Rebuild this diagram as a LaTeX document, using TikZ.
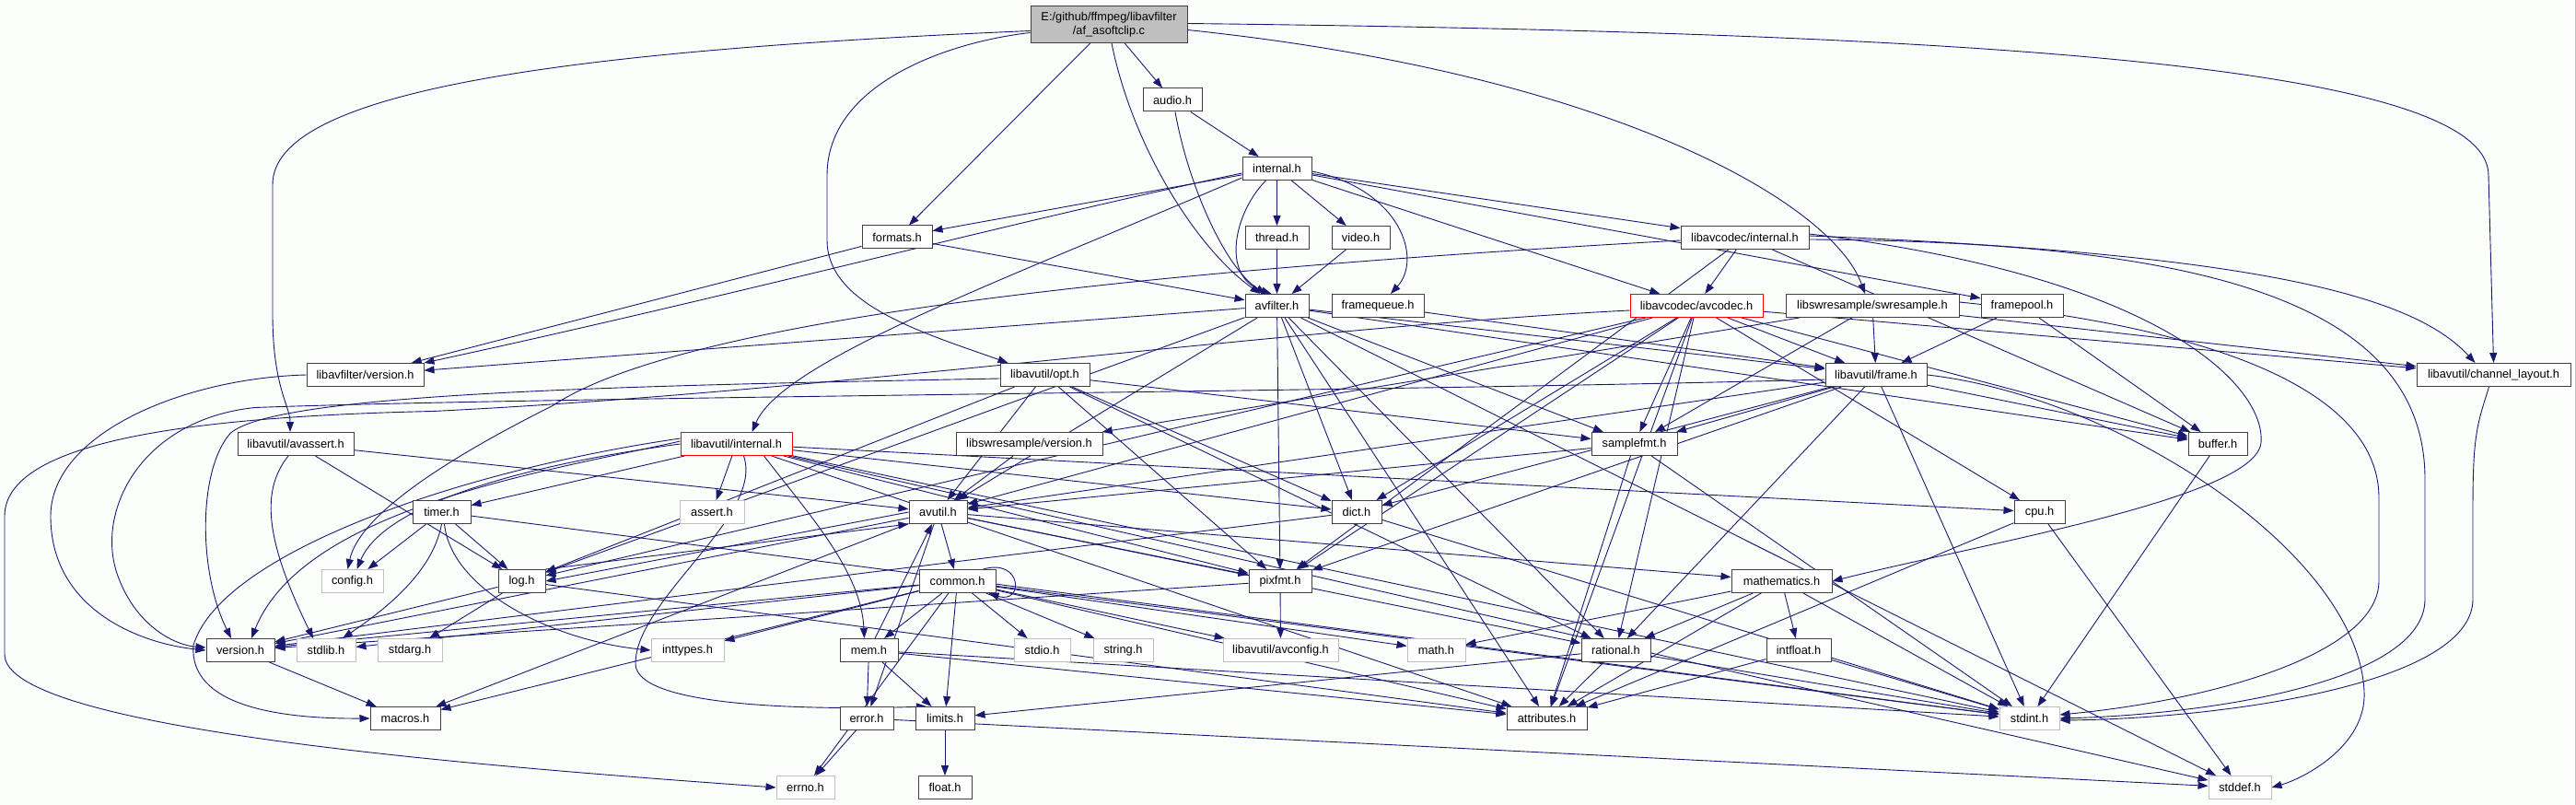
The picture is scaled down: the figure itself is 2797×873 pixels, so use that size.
\documentclass[tikz,border=0pt]{standalone}
\usepackage{fontspec}
\setmainfont{Liberation Sans}
\usetikzlibrary{arrows.meta}
\definecolor{edgec}{RGB}{25,25,112}
\definecolor{ndc}{RGB}{64,64,64}
\definecolor{sysc}{RGB}{191,191,191}
\definecolor{rootfill}{RGB}{191,191,191}
\definecolor{bgc}{RGB}{252,254,252}
\pgfdeclarelayer{back}
\pgfdeclarelayer{edges}
\pgfsetlayers{back,edges,main}
\newcommand{\fsz}{\fontsize{12.8}{14.5}\selectfont}
\tikzset{
  nd/.style={draw=ndc, fill=white, line width=1pt, minimum height=25pt, inner sep=0pt, font=\fsz},
  sys/.style={nd, draw=sysc},
  redbox/.style={nd, draw=red},
  edg/.style={draw=edgec, line width=0.9pt, -{Triangle[length=11pt,width=8pt]}, fill=none}
}
\begin{document}
\begin{tikzpicture}[x=1pt,y=-1pt]
\begin{pgfonlayer}{back}
\fill[bgc] (0,0) rectangle (2797,873);
\draw[sysc, line width=1pt] (2796,0) -- (2796,873);
\end{pgfonlayer}
\useasboundingbox (0,0) rectangle (2797,873);

\node[nd,fill=rootfill,minimum width=170pt,minimum height=40pt,align=center] (root) at (1204,26) {E:/github/ffmpeg/libavfilter\\/af\_asoftclip.c};
\node[nd,minimum width=64pt] (audio) at (1273,108) {audio.h};
\node[nd,minimum width=75pt] (lfint) at (1386.5,182.5) {internal.h};
\node[nd,minimum width=76pt] (formats) at (974,257) {formats.h};
\node[nd,minimum width=69pt] (thread) at (1386.5,257.5) {thread.h};
\node[nd,minimum width=63pt] (video) at (1477.5,257.5) {video.h};
\node[nd,minimum width=139pt] (lcint) at (1894.5,257.5) {libavcodec/internal.h};
\node[nd,minimum width=69pt] (avfilter) at (1386.5,331.5) {avfilter.h};
\node[nd,minimum width=100pt] (fqueue) at (1496,331.5) {framequeue.h};
\node[redbox,minimum width=144pt] (avcodec) at (1842,331.5) {libavcodec/avcodec.h};
\node[nd,minimum width=188pt] (swr) at (2033,331.5) {libswresample/swresample.h};
\node[nd,minimum width=89pt] (fpool) at (2195.5,331.5) {framepool.h};
\node[nd,minimum width=127pt] (lfver) at (396.5,406.5) {libavfilter/version.h};
\node[nd,minimum width=97pt] (opt) at (1134.5,406.5) {libavutil/opt.h};
\node[nd,minimum width=110pt] (frame) at (2037,406.5) {libavutil/frame.h};
\node[nd,minimum width=167pt] (chl) at (2707.5,406.5) {libavutil/channel\_layout.h};
\node[nd,minimum width=126pt] (avassert) at (321,481.5) {libavutil/avassert.h};
\node[redbox,minimum width=121pt] (luint) at (799.5,481.5) {libavutil/internal.h};
\node[nd,minimum width=159pt] (swrver) at (1117.5,481.5) {libswresample/version.h};
\node[nd,minimum width=93pt] (sfmt) at (1774.5,481.5) {samplefmt.h};
\node[nd,minimum width=64pt] (buffer) at (2408,481.5) {buffer.h};
\node[nd,minimum width=63pt] (timer) at (479.5,555.5) {timer.h};
\node[sys,minimum width=70pt] (assert) at (773,555.5) {assert.h};
\node[nd,minimum width=63pt] (avutil) at (1018.5,555.5) {avutil.h};
\node[nd,minimum width=54pt] (dict) at (1473,555.5) {dict.h};
\node[nd,minimum width=55pt] (cpu) at (2214.5,555.5) {cpu.h};
\node[sys,minimum width=67pt] (config) at (382.5,630.5) {config.h};
\node[nd,minimum width=51pt] (log) at (566.5,630.5) {log.h};
\node[nd,minimum width=83pt] (common) at (1039.5,630.5) {common.h};
\node[nd,minimum width=68pt] (pixfmt) at (1390,630.5) {pixfmt.h};
\node[nd,minimum width=109pt] (mathem) at (1934.5,630.5) {mathematics.h};
\node[nd,minimum width=74pt] (version) at (261,705.5) {version.h};
\node[sys,minimum width=64pt] (stdlib) at (354,705.5) {stdlib.h};
\node[sys,minimum width=70pt] (stdarg) at (445,705.5) {stdarg.h};
\node[sys,minimum width=79pt] (inttypes) at (746.5,705.5) {inttypes.h};
\node[nd,minimum width=63pt] (mem) at (943.5,705.5) {mem.h};
\node[sys,minimum width=61pt] (stdio) at (1131.5,705.5) {stdio.h};
\node[sys,minimum width=65pt] (string) at (1219.5,705.5) {string.h};
\node[sys,minimum width=125pt] (avconfig) at (1390.5,705.5) {libavutil/avconfig.h};
\node[sys,minimum width=63pt] (math) at (1559.5,705.5) {math.h};
\node[nd,minimum width=75pt] (rational) at (1754.5,705.5) {rational.h};
\node[nd,minimum width=70pt] (intfloat) at (1953,705.5) {intfloat.h};
\node[nd,minimum width=76pt] (macros) at (440,779.5) {macros.h};
\node[nd,minimum width=58pt] (error) at (941,779.5) {error.h};
\node[nd,minimum width=64pt] (limits) at (1026,779.5) {limits.h};
\node[nd,minimum width=87pt] (attrs) at (1679.5,779.5) {attributes.h};
\node[sys,minimum width=65pt] (stdint) at (2203.5,779.5) {stdint.h};
\node[sys,minimum width=63pt] (errno) at (874.5,854.5) {errno.h};
\node[nd,minimum width=58pt] (float) at (1026,854.5) {float.h};
\node[sys,minimum width=68pt] (stddef) at (2432,854.5) {stddef.h};

\begin{pgfonlayer}{edges}
% root
\draw[edg] ([yshift=-7pt]root.west) .. controls (600,55) and (296,100) .. (296,200) -- (296,340) .. controls (296,420) and (315,440) .. ([xshift=-6pt]avassert.north);
\draw[edg] ([yshift=-9pt]root.west) .. controls (1030,45) and (898,90) .. (898,190) -- (898,260) .. controls (898,330) and (1000,360) .. ([xshift=-40pt]opt.north);
\draw[edg] ([yshift=1pt]root.east) .. controls (2150,35) and (2702,70) .. (2702,190) -- (chl.north);
\draw[edg] ([yshift=-6pt]root.east) .. controls (1750,80) and (1990,220) .. ([xshift=-8pt]swr.north);
\draw[edg] (root) -- (formats);
\draw[edg] ([xshift=3pt]root.south) .. controls (1230,160) and (1300,270) .. ([xshift=-18pt]avfilter.north);
\draw[edg] (root) -- (audio);
% audio
\draw[edg] (audio) -- (lfint);
\draw[edg] ([xshift=3pt]audio.south) .. controls (1290,200) and (1330,290) .. ([xshift=-12pt]avfilter.north);
% libavfilter/internal.h
\draw[edg] ([xshift=-12pt]lfint.south) .. controls (1340,230) and (1325,300) .. ([xshift=-6pt]avfilter.north);
\draw[edg] (lfint) -- (thread);
\draw[edg] (lfint) -- (video);
\draw[edg] ([yshift=-3pt]lfint.east) .. controls (1520,205) and (1545,280) .. ([xshift=14pt]fqueue.north);
\draw[edg] (lfint) -- (formats);
\draw[edg] ([yshift=-5pt]lfint.west) .. controls (1100,240) and (800,320) .. (lfver.north east);
\draw[edg] ([yshift=-10pt]lfint.west) .. controls (1100,300) and (850,390) .. ([xshift=17pt]luint.north);
\draw[edg] (lfint) -- (lcint);
\draw[edg] (lfint) -- (avcodec);
\draw[edg] (lfint) -- (fpool);
% formats, thread, video
\draw[edg] (formats) -- (avfilter);
\draw[edg] (formats) -- (lfver);
\draw[edg] (thread) -- (avfilter);
\draw[edg] (video) -- (avfilter);
% framequeue, framepool
\draw[edg] (fqueue) -- (frame);
\draw[edg] (fpool) -- (frame);
\draw[edg] (fpool) -- (buffer);
% avfilter.h
\foreach \t in {attrs,avutil,buffer,dict,frame,log,sfmt,pixfmt,rational,lfver,stddef}
  \draw[edg] (avfilter) -- (\t);
% libavcodec/internal.h
\draw[edg] ([yshift=-2pt]lcint.east) .. controls (2400,262) and (2633,330) .. (2633,520) -- (2633,650) .. controls (2633,740) and (2400,775) .. (stdint.east);
\draw[edg] (lcint) -- (buffer);
\draw[edg] ([yshift=2pt]lcint.east) .. controls (2450,275) and (2620,320) .. ([xshift=-20pt]chl.north);
\draw[edg] ([yshift=4pt]lcint.east) .. controls (2350,300) and (2460,420) .. (2455,480) .. controls (2450,540) and (2150,590) .. (mathem.east);
\draw[edg] (lcint) -- (pixfmt);
\draw[edg] (lcint) -- (avcodec);
\draw[edg] ([yshift=-3pt]lcint.west) .. controls (1300,290) and (750,340) .. (600,440) .. controls (480,500) and (390,560) .. ([xshift=-5pt]config.north);
% libavcodec/avcodec.h
\draw[edg] ([yshift=-5pt]avcodec.west) .. controls (1400,355) and (900,425) .. (470,446) .. controls (200,452) and (5,480) .. (5,560) -- (5,710) .. controls (5,790) and (500,830) .. (errno.west);
\foreach \t in {sfmt,attrs,avutil,buffer,cpu,chl,dict,frame,log,pixfmt,rational}
  \draw[edg] (avcodec) -- (\t);
% swresample.h
\draw[edg] ([yshift=4pt]swr.east) .. controls (2450,360) and (2583,440) .. (2583,540) -- (2583,630) .. controls (2583,710) and (2400,760) .. ([yshift=4pt]stdint.east);
\foreach \t in {chl,frame,sfmt,swrver}
  \draw[edg] (swr) -- (\t);
% libavfilter/version.h
\draw[edg] (lfver.west) .. controls (200,410) and (55,470) .. (55,560) .. controls (55,660) and (150,698) .. (version.west);
% opt.h
\foreach \t in {rational,avutil,dict,log,pixfmt,sfmt}
  \draw[edg] (opt) -- (\t);
\draw[edg] ([yshift=-4pt]opt.west) .. controls (700,418) and (300,425) .. (250,470) .. controls (215,510) and (215,620) .. ([xshift=-10pt]version.north);
% frame.h
\foreach \t in {stdint,avutil,buffer,dict,rational,sfmt,pixfmt}
  \draw[edg] (frame) -- (\t);
\draw[edg] (frame.east) .. controls (2300,430) and (2560,600) .. (2567,750) .. controls (2570,810) and (2500,845) .. (stddef.east);
\draw[edg] ([yshift=-5pt]frame.west) .. controls (1500,425) and (600,430) .. (277,442) .. controls (150,455) and (100,560) .. (130,630) .. controls (150,680) and (190,700) .. ([yshift=3pt]version.west);
% channel_layout.h
\draw[edg] ([xshift=-5pt]chl.south) .. controls (2690,460) and (2685,470) .. (2685,550) -- (2685,650) .. controls (2685,745) and (2400,780) .. ([yshift=-2pt]stdint.east);
% avassert.h
\draw[edg] ([xshift=-8pt]avassert.south) .. controls (285,530) and (285,580) .. ([xshift=-14pt]stdlib.north);
\draw[edg] (avassert) -- (avutil);
\draw[edg] (avassert) -- (log);
% libavutil/internal.h
\foreach \t in {stdint,stddef,assert,attrs,timer,cpu,dict,pixfmt}
  \draw[edg] (luint) -- (\t);
\draw[edg] (luint.west) .. controls (600,500) and (420,540) .. ([xshift=5pt]config.north);
\draw[edg] ([yshift=3pt]luint.west) .. controls (600,510) and (330,550) .. ([xshift=12pt]version.north);
\draw[edg] ([yshift=6pt]luint.west) .. controls (500,510) and (240,600) .. (210,700) .. controls (205,765) and (300,780) .. (macros.west);
\draw[edg] ([xshift=30pt]luint.south) .. controls (880,560) and (935,620) .. ([xshift=-5pt]mem.north);
\draw[edg] ([xshift=8pt]luint.south) .. controls (830,560) and (690,650) .. (690,720) .. controls (690,770) and (900,770) .. ([xshift=-20pt]limits.north);
% timer.h
\draw[edg] (timer) -- (config);
\draw[edg] (timer.south) .. controls (470,620) and (420,660) .. ([xshift=18pt]stdlib.north);
\draw[edg] (timer) -- (stdint);
\draw[edg] ([xshift=3pt]timer.south) .. controls (490,640) and (600,695) .. (inttypes.west);
\draw[edg] (timer) -- (log);
% avutil.h
\foreach \t in {common,error,rational,version,macros,mathem,pixfmt}
  \draw[edg] (avutil) -- (\t);
\draw[edg] (avutil.west) -- (log.east);
% dict, cpu
\draw[edg] (dict) -- (stdint);
\draw[edg] (dict) -- (version);
\draw[edg] (cpu) -- (stddef);
\draw[edg] (cpu) -- (attrs);
% log.h
\draw[edg] (log) -- (stdarg);
\draw[edg] (log.north east) -- (avutil.south west);
\draw[edg] (log) -- (attrs);
\draw[edg] (log) -- (version);
% common.h
\foreach \t in {errno,inttypes,limits,math,stdint,stdio,stdlib,string,attrs,macros,version,avconfig,mem}
  \draw[edg] (common) -- (\t);
\draw[edg] ([xshift=28pt]common.north) .. controls (1110,605) and (1112,656) .. ([xshift=34pt]common.south);
% pixfmt.h
\draw[edg] (pixfmt) -- (avconfig);
\draw[edg] (pixfmt) -- (version);
% mathematics.h
\foreach \t in {stdint,math,attrs,rational,intfloat}
  \draw[edg] (mathem) -- (\t);
% version.h
\draw[edg] (version) -- (macros);
% mem.h
\foreach \t in {limits,stdint,attrs,error,avutil}
  \draw[edg] (mem) -- (\t);
% rational.h
\foreach \t in {stdint,limits,attrs}
  \draw[edg] (rational) -- (\t);
% intfloat.h
\draw[edg] (intfloat) -- (stdint);
\draw[edg] (intfloat) -- (attrs);
% samplefmt.h
\foreach \t in {stdint,avutil,attrs}
  \draw[edg] (sfmt) -- (\t);
% error.h
\draw[edg] (error) -- (errno);
\draw[edg] (error) -- (stddef);
% limits.h
\draw[edg] (limits) -- (float);
% buffer.h
\draw[edg] (buffer) -- (stdint);
% libswresample/version.h
\draw[edg] (swrver) -- (avutil);
\end{pgfonlayer}
\end{tikzpicture}
\end{document}
